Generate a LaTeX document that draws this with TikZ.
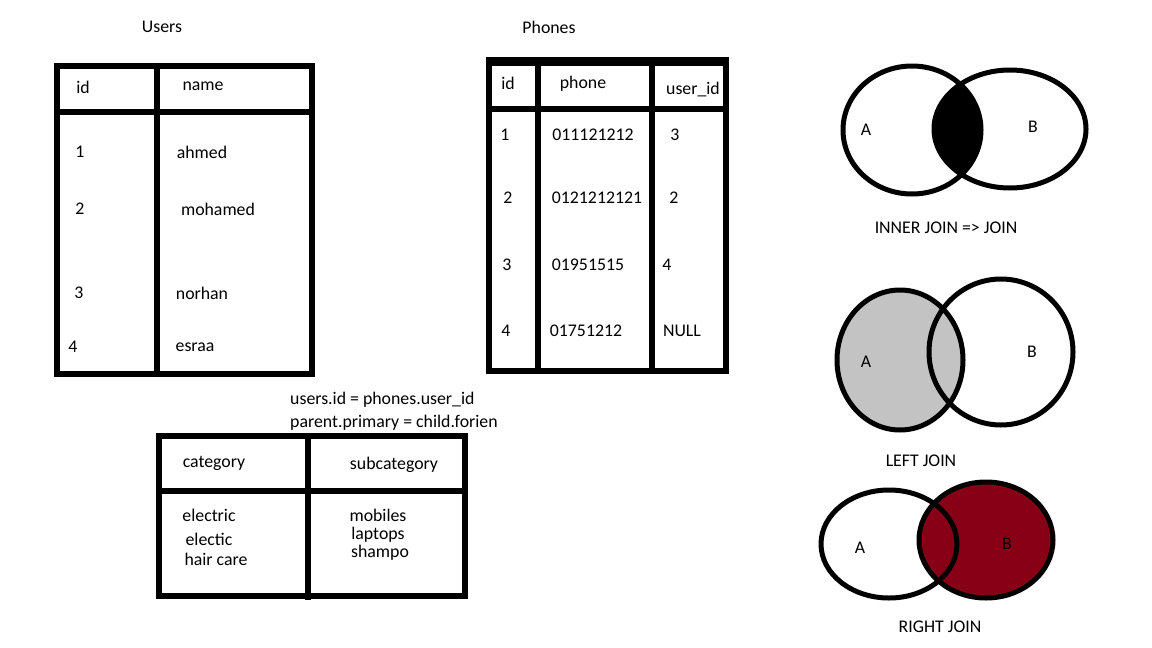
\documentclass[tikz,border=0pt]{standalone}
\usepackage{fontspec}
\setmainfont{Carlito}
\usepackage{tikz}
\usetikzlibrary{positioning}
\definecolor{PaintGray}{HTML}{C3C3C3}
\definecolor{PaintRed}{HTML}{880015}

\tikzset{
  label/.style={font=\fontsize{17.8}{20}\selectfont,inner sep=0pt},
  rule/.style={line width=6pt},
  venn/.style={line width=5pt}
}

\begin{document}
\begin{tikzpicture}[x=1pt,y=-1pt]
  \useasboundingbox[fill=white] (0,0) rectangle (1152,648);

  % users table
  \node[label] (users) at (162,27) {Users};
  \draw[rule] (57,66) rectangle (312,374);
  \draw[rule] (57,112) -- (312,112);
  \draw[rule] (157,64) -- (157,377);
  \node[label] (uid) at (83,87) {id};
  \node[label] (uname) at (203,86) {name};
  \node[label] (u1) at (80,152) {1};
  \node[label] (u1n) at (202,152) {ahmed};
  \node[label] (u2) at (80,209) {2};
  \node[label] (u2n) at (218,209) {mohamed};
  \node[label] (u3) at (79,293) {3};
  \node[label] (u3n) at (202,293) {norhan};
  \node[label] (u4) at (73,347) {4};
  \node[label] (u4n) at (195,347) {esraa};

  % phones table
  \node[label] (phones) at (549,27) {Phones};
  \draw[rule] (489,62) rectangle (726,371);
  \draw[line width=9pt] (486,61) -- (729,61);
  \draw[rule] (489,109) -- (726,109);
  \draw[rule] (538,62) -- (538,374);
  \draw[rule] (652,62) -- (652,371);
  \node[label] (pid) at (508,83) {id};
  \node[label] (pphone) at (583,84) {phone};
  \node[label] (puser) at (693,90) {user\_id};
  \node[label] (p1) at (505,135) {1};
  \node[label] (p1p) at (593,135) {011121212};
  \node[label] (p1u) at (675,135) {3};
  \node[label] (p2) at (508,198) {2};
  \node[label] (p2p) at (597,198) {0121212121};
  \node[label] (p2u) at (674,198) {2};
  \node[label] (p3) at (507,265) {3};
  \node[label] (p3p) at (588,265) {01951515};
  \node[label] (p3u) at (667,265) {4};
  \node[label] (p4) at (506,331) {4};
  \node[label] (p4p) at (586,331) {01751212};
  \node[label] (p4u) at (682,331) {NULL};

  % key notes
  \node[label,anchor=west] (keyone) at (290,400) {users.id = phones.user\_id};
  \node[label,anchor=west] (keytwo) at (290,423) {parent.primary = child.forien};

  % category table
  \draw[rule] (159,436) rectangle (465,596);
  \draw[rule] (159,491) -- (465,491);
  \draw[rule] (308,436) -- (308,600);
  \node[label] (ccat) at (214,463) {category};
  \node[label] (csub) at (394,465) {subcategory};
  \node[label] (c1) at (209,515) {electric};
  \node[label] (c2) at (209,539) {electic};
  \node[label] (c3) at (216,559) {hair care};
  \node[label] (s1) at (378,515) {mobiles};
  \node[label] (s2) at (378,535) {laptops};
  \node[label] (s3) at (380,553) {shampo};

  % inner join
  \begin{scope}
    \clip (912,130) ellipse (69 and 64);
    \fill (1010,129) ellipse (76 and 59);
  \end{scope}
  \draw[venn] (912,130) ellipse (69 and 64);
  \draw[venn] (1010,129) ellipse (76 and 59);
  \node[label] (ia) at (866,130) {A};
  \node[label] (ib) at (1033,127) {B};
  \node[label] (inner) at (946,228) {INNER JOIN => JOIN};

  % left join
  \fill[PaintGray] (900,360) ellipse (63 and 70);
  \draw[venn] (900,360) ellipse (63 and 70);
  \draw[venn] (1001,352) ellipse (72 and 73);
  \node[label] (la) at (866,362) {A};
  \node[label] (lb) at (1032,352) {B};
  \node[label] (left) at (921,461) {LEFT JOIN};

  % right join
  \fill[PaintRed] (986,540) ellipse (67 and 58);
  \draw[venn] (986,540) ellipse (67 and 58);
  \draw[venn] (889,544) ellipse (68 and 54);
  \node[label] (ra) at (860,548) {A};
  \node[label] (rb) at (1007,544) {B};
  \node[label] (right) at (940,627) {RIGHT JOIN};
\end{tikzpicture}
\end{document}
